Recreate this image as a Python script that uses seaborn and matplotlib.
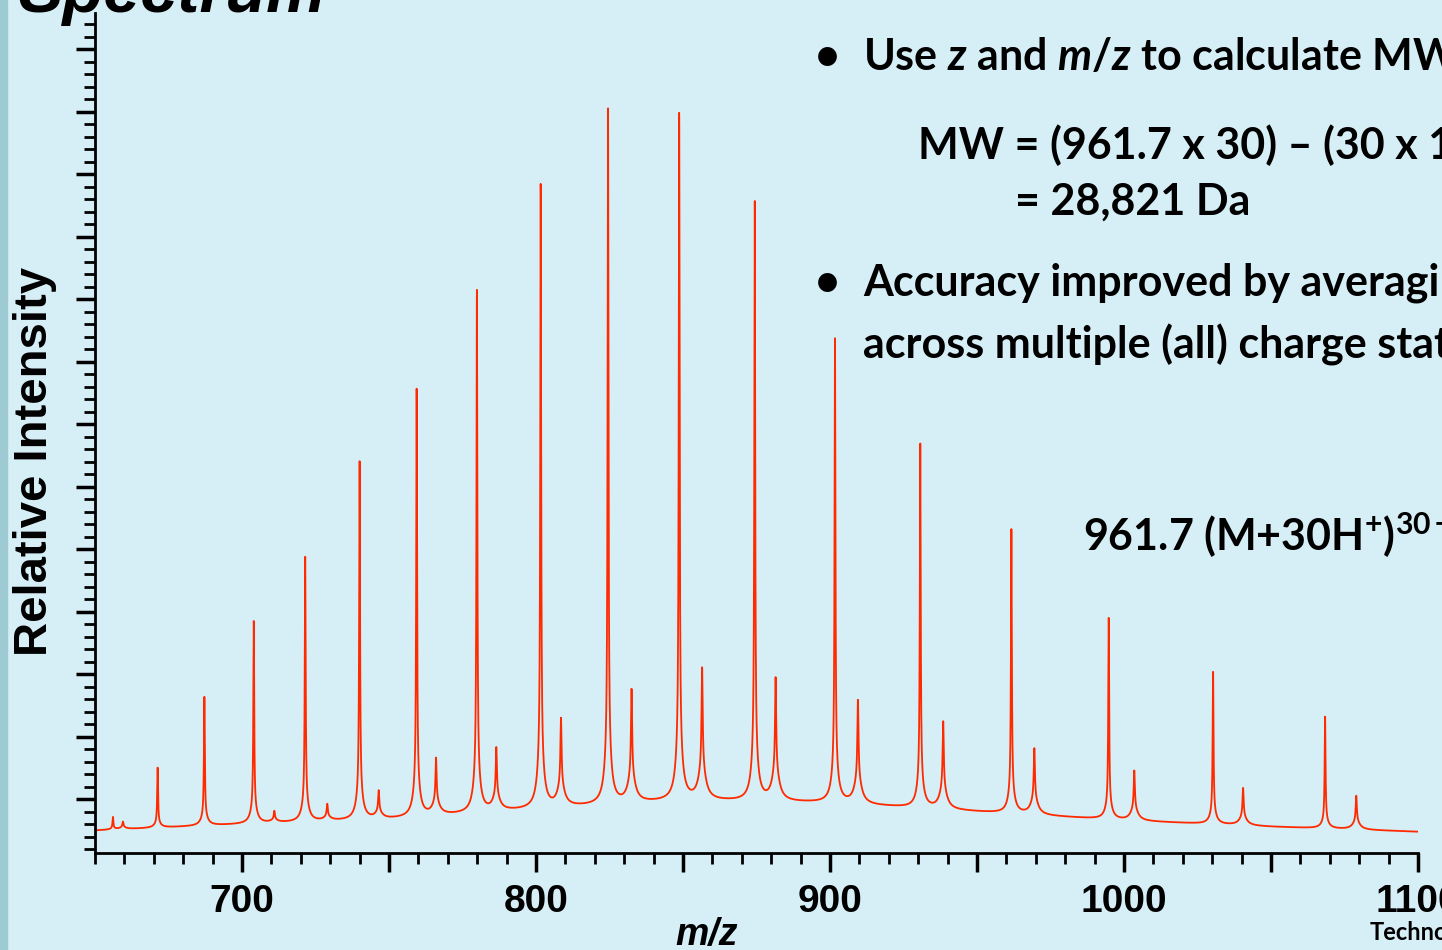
import numpy as np
import pandas as pd
import seaborn as sns
import matplotlib.pyplot as plt

# main charge-state peaks (m/z, height above background in axis units)
peak_mz = [656.1, 671.3, 687.2, 704.0, 721.5, 740.0, 759.4, 779.9, 801.6, 824.5,
           848.7, 874.4, 901.7, 930.7, 961.7, 994.8, 1030.3, 1068.4]
peak_height = [1.0, 4.8, 10.3, 16.2, 21.4, 28.7, 34.2, 41.9, 50.1, 55.6,
               55.0, 48.4, 37.4, 29.2, 22.8, 16.1, 12.3, 9.0]
# adduct / satellite peaks
side_mz = [659.5, 711.0, 729.0, 746.5, 766.0, 786.5, 808.5, 832.5, 856.5, 881.5,
           909.5, 938.5, 969.5, 1003.5, 1040.5, 1079.0]
side_height = [0.6, 0.9, 1.3, 2.2, 4.5, 5.0, 7.0, 9.0, 10.5, 9.8,
               8.3, 7.0, 5.3, 4.0, 3.0, 2.7]
# background level
base_mz = [650, 700, 750, 800, 850, 880, 900, 950, 1000, 1050, 1100]
base_level = [1.8, 2.3, 2.7, 3.5, 4.2, 4.1, 4.0, 3.3, 2.6, 2.1, 1.7]

mz = np.linspace(650, 1100, 12000)
signal = np.interp(mz, base_mz, base_level)
for c, h in zip(peak_mz, peak_height):
    signal += h * 0.92 * (0.03 / (0.03 + (mz - c) ** 2)) + h * 0.08 * (1.5 / (1.5 + (mz - c) ** 2))
for c, h in zip(side_mz, side_height):
    signal += h * 0.75 * (0.05 / (0.05 + (mz - c) ** 2)) + h * 0.25 * (2 / (2 + (mz - c) ** 2))
df = pd.DataFrame({'mz': mz, 'intensity': signal})

bg = '#d6eef5'
fig = plt.figure(figsize=(14.42, 9.5), dpi=100, facecolor=bg)
fig.patches.append(plt.Rectangle((0, 0), 7 / 1442, 1, transform=fig.transFigure,
                                 color='#9ecbd3', zorder=0))
ax = fig.add_axes([95 / 1442, 97 / 950, 1323 / 1442, 840 / 950])
ax.set_facecolor('none')
sns.lineplot(data=df, x='mz', y='intensity', ax=ax, color='#ff2a00', lw=1.3)

ax.set_xlim(650, 1100)
ax.set_ylim(0, 67.2)
for s in ['top', 'right']:
    ax.spines[s].set_visible(False)
for s in ['left', 'bottom']:
    ax.spines[s].set_linewidth(2)
ax.set_xticks([700, 750, 800, 850, 900, 950, 1000, 1050, 1100])
ax.set_xticklabels(['700', '', '800', '', '900', '', '1000', '', '1100'])
ax.set_xticks(np.arange(650, 1101, 10), minor=True)
ax.set_yticks(np.arange(4.32, 67, 5))
ax.set_yticks(np.arange(0.32, 67, 1), minor=True)
ax.set_yticklabels([])
ax.tick_params(axis='both', which='major', length=14, width=2.5, direction='out')
ax.tick_params(axis='both', which='minor', length=8, width=2, direction='out')
ax.tick_params(axis='x', labelsize=28, pad=8)
for t in ax.get_xticklabels():
    t.set_fontweight('bold')
    t.set_family('Liberation Sans')
ax.set_xlabel('')
ax.set_ylabel('')

fig.text(35 / 1442, 1 - 462 / 950, 'Relative Intensity', rotation=90, ha='center', va='center',
         fontsize=34, fontweight='bold', family='Liberation Sans')
fig.text(707 / 1442, 15 / 950, 'm/z', ha='center', va='center', fontsize=27,
         fontweight='bold', style='italic', family='Liberation Sans')
fig.text(18 / 1442, 1.005, 'Spectrum', ha='left', va='center', fontsize=48,
         fontweight='bold', style='italic', family='Liberation Sans')

plt.rcParams['mathtext.fontset'] = 'custom'
plt.rcParams['mathtext.rm'] = 'Lato:bold'
plt.rcParams['mathtext.it'] = 'Lato:italic:bold'
kw = dict(fontsize=31, fontweight='bold', family='Lato', va='center', ha='left')
fig.text(815 / 1442, 1 - 57 / 950, '•', **kw)
fig.text(863 / 1442, 1 - 57 / 950, 'Use $z$ and $m/z$ to calculate MW', **kw)
fig.text(918 / 1442, 1 - 145 / 950, 'MW = (961.7 x 30) – (30 x 1.008)', **kw)
fig.text(1015 / 1442, 1 - 202 / 950, '= 28,821 Da', **kw)
fig.text(815 / 1442, 1 - 283 / 950, '•', **kw)
fig.text(863 / 1442, 1 - 283 / 950, 'Accuracy improved by averaging', **kw)
fig.text(863 / 1442, 1 - 345 / 950, 'across multiple (all) charge states', **kw)
fig.text(1083 / 1442, 1 - 535 / 950, '961.7 (M+30H$^{+}$)$^{30+}$', **kw)
fig.text(1370 / 1442, 1 - 932 / 950, 'Technology', fontsize=17, fontweight='bold',
         family='Lato', va='center', ha='left')

fig.savefig('out.png', dpi=100, facecolor=bg)
